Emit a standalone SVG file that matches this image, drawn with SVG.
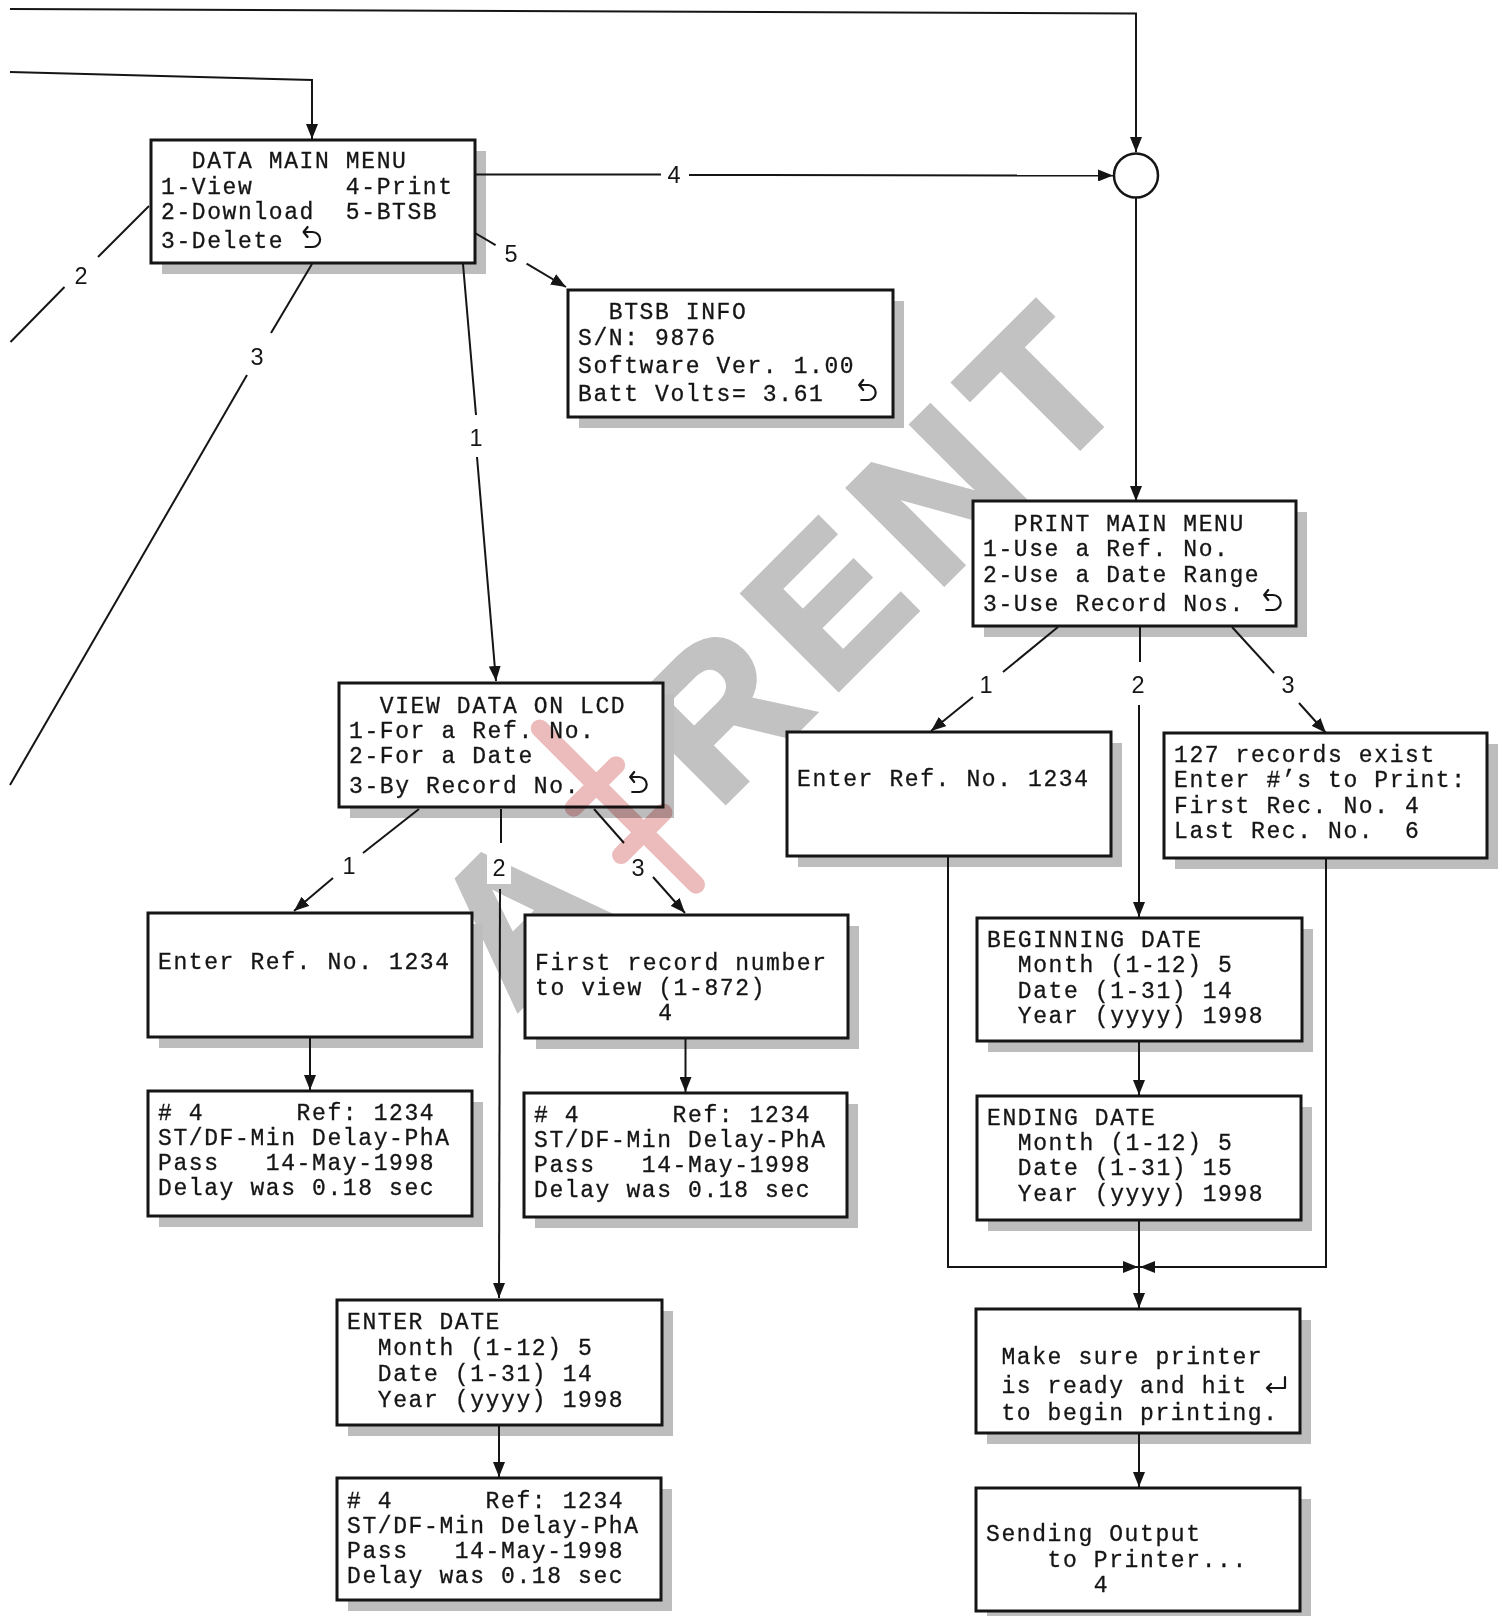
<svg xmlns="http://www.w3.org/2000/svg" width="1502" height="1616" viewBox="0 0 1502 1616">
<style>
.box{fill:#fff;stroke:#151515;stroke-width:3}
.shadow{fill:#bdbdbd}
.t{font-family:"Liberation Mono","DejaVu Sans Mono",monospace;font-size:23px;letter-spacing:1.6px;fill:#151515;stroke:#151515;stroke-width:0.3;white-space:pre}
.c{fill:none;stroke:#151515;stroke-width:2}
.lbl{font-family:"Liberation Sans",Arial,sans-serif;font-size:23.5px;fill:#151515;text-anchor:middle}
.lblbg{fill:#fff}
.ret{fill:none;stroke:#151515;stroke-width:2.2;stroke-linecap:round;stroke-linejoin:round}
.wm{font-family:"Liberation Sans",Arial,sans-serif;font-weight:bold;font-size:195px;fill:#c2c2c2;stroke:#c2c2c2;stroke-width:6;stroke-linejoin:miter}
</style>
<defs>
<marker id="ah" markerUnits="userSpaceOnUse" markerWidth="16" markerHeight="12" refX="15" refY="6" orient="auto"><path d="M0,0 L15,6 L0,12 z" fill="#151515"/></marker>
<g id="ret"><path class="ret" d="M8,-21 L4,-16 L8,-11 M4,-16 H13 A7.5,7.5 0 0 1 13,-1 H6"/></g>
<g id="enter"><path class="ret" d="M22,-16 V-5 H4 M8,-9 L4,-5 L8,-1"/></g>
</defs>
<rect x="0" y="0" width="1502" height="1616" fill="#fff"/>

<g id="watermark" transform="translate(515,1012) rotate(-45)">
<text class="wm" x="0" y="0">A</text>
<text class="wm" x="285" y="0" letter-spacing="19">RENT</text>
</g>

<g id="data-main-menu">
<rect class="shadow" x="162" y="151" width="324" height="123"/>
<rect class="box" x="151" y="140" width="324" height="123"/>
<text class="t" x="161" y="168" xml:space="preserve">  DATA MAIN MENU</text>
<text class="t" x="161" y="194" xml:space="preserve">1-View      4-Print</text>
<text class="t" x="161" y="219" xml:space="preserve">2-Download  5-BTSB</text>
<text class="t" x="161" y="248" xml:space="preserve">3-Delete</text>
<use href="#ret" x="299.6" y="248"/>
</g>

<g id="btsb-info">
<rect class="shadow" x="579" y="301" width="325" height="127"/>
<rect class="box" x="568" y="290" width="325" height="127"/>
<text class="t" x="578" y="319" xml:space="preserve">  BTSB INFO</text>
<text class="t" x="578" y="345" xml:space="preserve">S/N: 9876</text>
<text class="t" x="578" y="373" xml:space="preserve">Software Ver. 1.00</text>
<text class="t" x="578" y="401" xml:space="preserve">Batt Volts= 3.61</text>
<use href="#ret" x="855.2" y="401"/>
</g>

<g id="junction">
<circle cx="1136" cy="175.5" r="22" fill="#fff" stroke="#151515" stroke-width="2.5"/>
</g>

<g id="print-main-menu">
<rect class="shadow" x="984" y="512" width="323" height="125"/>
<rect class="box" x="973" y="501" width="323" height="125"/>
<text class="t" x="983" y="531" xml:space="preserve">  PRINT MAIN MENU</text>
<text class="t" x="983" y="556" xml:space="preserve">1-Use a Ref. No.</text>
<text class="t" x="983" y="582" xml:space="preserve">2-Use a Date Range</text>
<text class="t" x="983" y="611" xml:space="preserve">3-Use Record Nos.</text>
<use href="#ret" x="1260.2" y="611"/>
</g>

<g id="view-data-on-lcd">
<rect class="shadow" x="350" y="694" width="324" height="124"/>
<rect class="box" x="339" y="683" width="324" height="124"/>
<text class="t" x="349" y="713" xml:space="preserve">  VIEW DATA ON LCD</text>
<text class="t" x="349" y="738" xml:space="preserve">1-For a Ref. No.</text>
<text class="t" x="349" y="763" xml:space="preserve">2-For a Date</text>
<text class="t" x="349" y="793" xml:space="preserve">3-By Record No.</text>
<use href="#ret" x="626.2" y="793"/>
</g>

<g id="print-enter-ref">
<rect class="shadow" x="798" y="743" width="324" height="124"/>
<rect class="box" x="787" y="732" width="324" height="124"/>
<text class="t" x="797" y="786" xml:space="preserve">Enter Ref. No. 1234</text>
</g>

<g id="print-record-nos">
<rect class="shadow" x="1175" y="744" width="323" height="125"/>
<rect class="box" x="1164" y="733" width="323" height="125"/>
<text class="t" x="1174" y="762" xml:space="preserve">127 records exist</text>
<text class="t" x="1174" y="787" xml:space="preserve">Enter #’s to Print:</text>
<text class="t" x="1174" y="813" xml:space="preserve">First Rec. No. 4</text>
<text class="t" x="1174" y="838" xml:space="preserve">Last Rec. No.  6</text>
</g>

<g id="view-enter-ref">
<rect class="shadow" x="159" y="924" width="324" height="124"/>
<rect class="box" x="148" y="913" width="324" height="124"/>
<text class="t" x="158" y="969" xml:space="preserve">Enter Ref. No. 1234</text>
</g>

<g id="view-first-record">
<rect class="shadow" x="536" y="926" width="323" height="123"/>
<rect class="box" x="525" y="915" width="323" height="123"/>
<text class="t" x="535" y="970" xml:space="preserve">First record number</text>
<text class="t" x="535" y="995" xml:space="preserve">to view (1-872)</text>
<text class="t" x="535" y="1020" xml:space="preserve">        4</text>
</g>

<g id="view-record-ref">
<rect class="shadow" x="159" y="1102" width="324" height="125"/>
<rect class="box" x="148" y="1091" width="324" height="125"/>
<text class="t" x="158" y="1120" xml:space="preserve"># 4      Ref: 1234</text>
<text class="t" x="158" y="1145" xml:space="preserve">ST/DF-Min Delay-PhA</text>
<text class="t" x="158" y="1170" xml:space="preserve">Pass   14-May-1998</text>
<text class="t" x="158" y="1195" xml:space="preserve">Delay was 0.18 sec</text>
</g>

<g id="view-record-first">
<rect class="shadow" x="535" y="1104" width="323" height="124"/>
<rect class="box" x="524" y="1093" width="323" height="124"/>
<text class="t" x="534" y="1122" xml:space="preserve"># 4      Ref: 1234</text>
<text class="t" x="534" y="1147" xml:space="preserve">ST/DF-Min Delay-PhA</text>
<text class="t" x="534" y="1172" xml:space="preserve">Pass   14-May-1998</text>
<text class="t" x="534" y="1197" xml:space="preserve">Delay was 0.18 sec</text>
</g>

<g id="view-enter-date">
<rect class="shadow" x="348" y="1311" width="325" height="125"/>
<rect class="box" x="337" y="1300" width="325" height="125"/>
<text class="t" x="347" y="1329" xml:space="preserve">ENTER DATE</text>
<text class="t" x="347" y="1355" xml:space="preserve">  Month (1-12) 5</text>
<text class="t" x="347" y="1381" xml:space="preserve">  Date (1-31) 14</text>
<text class="t" x="347" y="1407" xml:space="preserve">  Year (yyyy) 1998</text>
</g>

<g id="view-record-date">
<rect class="shadow" x="348" y="1489" width="324" height="122"/>
<rect class="box" x="337" y="1478" width="324" height="122"/>
<text class="t" x="347" y="1508" xml:space="preserve"># 4      Ref: 1234</text>
<text class="t" x="347" y="1533" xml:space="preserve">ST/DF-Min Delay-PhA</text>
<text class="t" x="347" y="1558" xml:space="preserve">Pass   14-May-1998</text>
<text class="t" x="347" y="1583" xml:space="preserve">Delay was 0.18 sec</text>
</g>

<g id="print-beginning-date">
<rect class="shadow" x="988" y="929" width="325" height="123"/>
<rect class="box" x="977" y="918" width="325" height="123"/>
<text class="t" x="987" y="947" xml:space="preserve">BEGINNING DATE</text>
<text class="t" x="987" y="972" xml:space="preserve">  Month (1-12) 5</text>
<text class="t" x="987" y="998" xml:space="preserve">  Date (1-31) 14</text>
<text class="t" x="987" y="1023" xml:space="preserve">  Year (yyyy) 1998</text>
</g>

<g id="print-ending-date">
<rect class="shadow" x="988" y="1107" width="324" height="124"/>
<rect class="box" x="977" y="1096" width="324" height="124"/>
<text class="t" x="987" y="1125" xml:space="preserve">ENDING DATE</text>
<text class="t" x="987" y="1150" xml:space="preserve">  Month (1-12) 5</text>
<text class="t" x="987" y="1175" xml:space="preserve">  Date (1-31) 15</text>
<text class="t" x="987" y="1201" xml:space="preserve">  Year (yyyy) 1998</text>
</g>

<g id="print-make-sure">
<rect class="shadow" x="987" y="1320" width="324" height="124"/>
<rect class="box" x="976" y="1309" width="324" height="124"/>
<text class="t" x="986" y="1364" xml:space="preserve"> Make sure printer</text>
<text class="t" x="986" y="1393" xml:space="preserve"> is ready and hit</text>
<text class="t" x="986" y="1420" xml:space="preserve"> to begin printing.</text>
<use href="#enter" x="1263" y="1393"/>
</g>

<g id="print-sending">
<rect class="shadow" x="987" y="1499" width="324" height="123"/>
<rect class="box" x="976" y="1488" width="324" height="123"/>
<text class="t" x="986" y="1541" xml:space="preserve">Sending Output</text>
<text class="t" x="986" y="1567" xml:space="preserve">    to Printer...</text>
<text class="t" x="986" y="1592" xml:space="preserve">       4</text>
</g>

<g id="connectors">
<polyline class="c" points="10,9 1136,13.5 1136,152" marker-end="url(#ah)"/>
<polyline class="c" points="10,72 312,80 312,139" marker-end="url(#ah)"/>
<line class="c" x1="475" y1="174.5" x2="661" y2="174.5"/>
<line class="c" x1="689" y1="175" x2="1113" y2="175.5" marker-end="url(#ah)"/>
<line class="c" x1="1136" y1="197.5" x2="1136" y2="501" marker-end="url(#ah)"/>
<line class="c" x1="475" y1="233" x2="495.6" y2="245.2"/>
<line class="c" x1="526.6" y1="263.6" x2="566" y2="287" marker-end="url(#ah)"/>
<line class="c" x1="149" y1="206" x2="98" y2="257"/>
<line class="c" x1="64.5" y1="287" x2="10.5" y2="342"/>
<line class="c" x1="312" y1="264" x2="271" y2="333"/>
<line class="c" x1="247" y1="375" x2="10" y2="785"/>
<line class="c" x1="463" y1="264" x2="476" y2="415"/>
<line class="c" x1="477" y1="457" x2="496" y2="681" marker-end="url(#ah)"/>
<line class="c" x1="419" y1="809" x2="363" y2="853"/>
<line class="c" x1="333" y1="878" x2="294" y2="911" marker-end="url(#ah)"/>
<line class="c" x1="501" y1="809" x2="501" y2="843"/>
<line class="c" x1="500" y1="889" x2="499" y2="1298" marker-end="url(#ah)"/>
<line class="c" x1="594" y1="809" x2="624" y2="843"/>
<line class="c" x1="653" y1="877" x2="685" y2="913" marker-end="url(#ah)"/>
<line class="c" x1="1058" y1="627" x2="1003" y2="672"/>
<line class="c" x1="973" y1="697" x2="931" y2="731" marker-end="url(#ah)"/>
<line class="c" x1="1140" y1="627" x2="1140" y2="662"/>
<line class="c" x1="1139" y1="705" x2="1139" y2="917" marker-end="url(#ah)"/>
<line class="c" x1="1232" y1="627" x2="1274" y2="673"/>
<line class="c" x1="1299" y1="703" x2="1326" y2="733" marker-end="url(#ah)"/>
<line class="c" x1="310" y1="1037" x2="310" y2="1090" marker-end="url(#ah)"/>
<line class="c" x1="685.5" y1="1038" x2="685.5" y2="1092" marker-end="url(#ah)"/>
<line class="c" x1="499" y1="1425" x2="499" y2="1477" marker-end="url(#ah)"/>
<line class="c" x1="1139" y1="1041" x2="1139" y2="1095" marker-end="url(#ah)"/>
<line class="c" x1="1139" y1="1220" x2="1139" y2="1308" marker-end="url(#ah)"/>
<polyline class="c" points="948,856 948,1267 1138,1267" marker-end="url(#ah)"/>
<polyline class="c" points="1326,858 1326,1267 1140,1267" marker-end="url(#ah)"/>
<line class="c" x1="1139" y1="1433" x2="1139" y2="1487" marker-end="url(#ah)"/>
</g>

<g id="connector-labels">
<rect class="lblbg" x="487" y="848" width="24" height="36"/>
<rect class="lblbg" x="626" y="850" width="24" height="24"/>
<text class="lbl" x="674" y="182.5">4</text>
<text class="lbl" x="511" y="261.5">5</text>
<text class="lbl" x="81" y="283.5">2</text>
<text class="lbl" x="257" y="364.5">3</text>
<text class="lbl" x="476" y="445.5">1</text>
<text class="lbl" x="349" y="873.5">1</text>
<text class="lbl" x="499" y="875.5">2</text>
<text class="lbl" x="638" y="875.5">3</text>
<text class="lbl" x="986" y="692.5">1</text>
<text class="lbl" x="1138" y="692.5">2</text>
<text class="lbl" x="1288" y="692.5">3</text>
</g>

<g id="watermark-mark" style="mix-blend-mode:multiply" transform="translate(515,1012) rotate(-45)">
<path d="M218,38 V-183 M186,-103 H246 M186,-36 H246" fill="none" stroke="#ecbcbc" stroke-width="18" stroke-linecap="round"/>
</g>
</svg>
